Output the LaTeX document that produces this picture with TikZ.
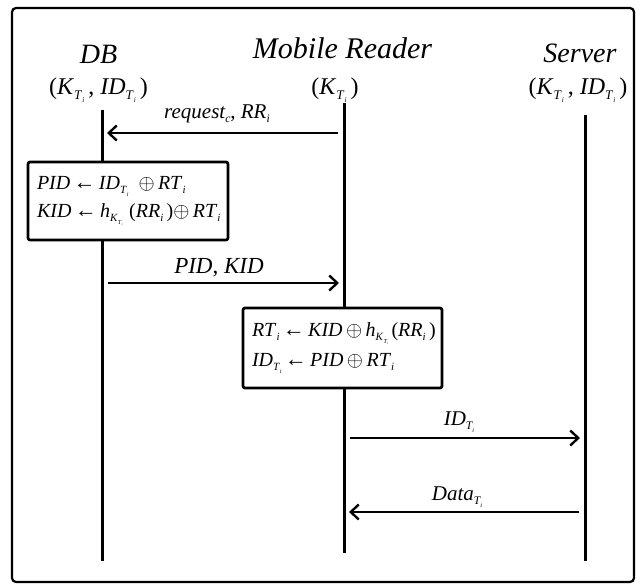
\documentclass[tikz,border=0pt]{standalone}
\usepackage{fontspec}
\setmainfont{Liberation Serif}
\usepackage{graphicx}
\usetikzlibrary{arrows.meta}
\newcommand\sbs[1]{\raisebox{-0.5ex}{\scalebox{0.55}{#1}}}
\newcommand\Ti{\sbs{\textit{T}\sbs{\textit{i}}}}
\newcommand\lar{\,{\fontsize{22}{22}\selectfont ←}\,}
\begin{document}
\begin{tikzpicture}[x=1pt,y=-1pt,
  lifeline/.style={line width=3pt},
  msg/.style={line width=2.4pt,-{Straight Barb[length=8pt,width=15pt,line width=2.4pt]},shorten >=5pt,shorten <=6pt},
  title/.style={anchor=base,font=\fontsize{28}{30}\selectfont\itshape,inner sep=0},
  keys/.style={anchor=base,font=\fontsize{24}{26}\selectfont,inner sep=0},
  lbl/.style={anchor=base,font=\fontsize{21}{24}\selectfont\itshape,inner sep=0},
  calc/.style={draw,line width=2.6pt,fill=white,rounded corners=2pt,inner sep=0,align=left}]
\useasboundingbox (0,0) rectangle (640,584);
\draw[line width=2.2pt,rounded corners=4pt] (12,8) rectangle (634,582);
% titles
\node[title] (tdb) at (98.5,63) {DB};
\node[title,font=\fontsize{30}{32}\selectfont\itshape] (trd) at (342.5,58) {Mobile Reader};
\node[title] (tsv) at (580,62) {Server};
\node[keys] (kdb) at (98.5,94) {(\textit{K}\Ti\,, \textit{ID}\Ti\,)};
\node[keys] (krd) at (335,94) {(\textit{K}\Ti\,)};
\node[keys] (ksv) at (578,94) {(\textit{K}\Ti\,, \textit{ID}\Ti\,)};
% lifelines
\coordinate (dbt) at (102,110); \coordinate (dbb) at (102,561);
\coordinate (rdt) at (344,103); \coordinate (rdb) at (344,553);
\coordinate (svt) at (585,115); \coordinate (svb) at (585,561);
\draw[lifeline] (dbt) -- (dbb);
\draw[lifeline] (rdt) -- (rdb);
\draw[lifeline] (svt) -- (svb);
% message 1
\coordinate (r1) at (344,133); \coordinate (d1) at (102,133);
\draw[msg] (r1) -- (d1);
\node[lbl] (l1) at (217,118) {request\sbs{c}\upshape, \itshape RR\sbs{i}};
% box 1
\node[calc,minimum width=200pt,minimum height=78pt,text width=182pt,
  font=\fontsize{20}{28}\selectfont] (b1) at (128,201)
  {\textit{PID}\lar\textit{ID}\Ti\ \,$\oplus$\,\textit{RT}\sbs{\textit{i}}\\
   \textit{KID}\lar\textit{h}\sbs{\textit{K}\sbs{\textit{T}\sbs{\textit{i}}}}\,\,(\textit{RR}\sbs{\textit{i}}\,)$\oplus$\,\textit{RT}\sbs{\textit{i}}};
% message 2
\coordinate (d2) at (102,283); \coordinate (r2) at (344,283);
\draw[msg] (d2) -- (r2);
\node[lbl,font=\fontsize{23}{24}\selectfont\itshape] (l2) at (219,273) {PID\upshape, \itshape KID};
% box 2
\node[calc,minimum width=199pt,minimum height=80pt,text width=181pt,
  font=\fontsize{20}{30}\selectfont] (b2) at (342.5,348)
  {\textit{RT}\sbs{\textit{i}}\lar\textit{KID}$\,\oplus\,$\textit{h}\sbs{\textit{K}\sbs{\textit{T}\sbs{\textit{i}}}}\,(\textit{RR}\sbs{\textit{i}}\,)\\
   \textit{ID}\Ti\lar\textit{PID}$\,\oplus\,$\textit{RT}\sbs{\textit{i}}};
% message 3
\coordinate (r3) at (344,438); \coordinate (s3) at (585,438);
\draw[msg] (r3) -- (s3);
\node[lbl] (l3) at (459,425) {ID\Ti};
% message 4
\coordinate (s4) at (585,512); \coordinate (r4) at (344,512);
\draw[msg] (s4) -- (r4);
\node[lbl] (l4) at (457,500) {Data\Ti};
\end{tikzpicture}
\end{document}
